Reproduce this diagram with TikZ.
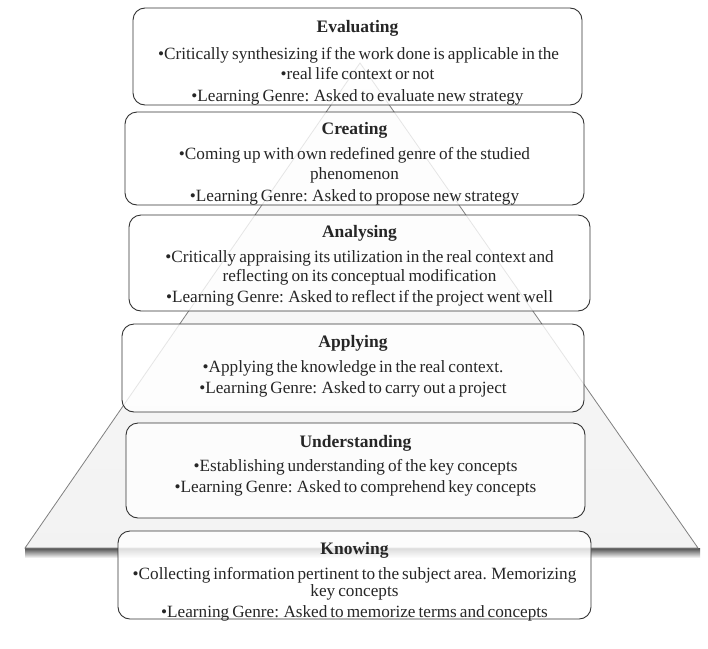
\documentclass[tikz,border=0pt]{standalone}
\usepackage{fontspec}
\setmainfont{Liberation Serif}[WordSpace=0.7]
\begin{document}
\begin{tikzpicture}[x=1pt,y=-1pt,
  box/.style={draw=black!80, line width=0.9pt, rounded corners=12pt, fill=white, fill opacity=0.8, inner sep=0pt},
  txt/.style={font=\fontsize{17.2}{18}\selectfont, text=black!85, anchor=mid, inner sep=0pt},
  ttl/.style={txt, font=\fontsize{17.5}{18}\selectfont\bfseries},
  tri/.style={draw=black!50, line width=0.8pt}]
\useasboundingbox (0,0) rectangle (708,648);
\fill[white] (0,0) rectangle (708,648);
% pyramid
\coordinate (apex) at (360,63);
\coordinate (bl) at (25,548);
\coordinate (br) at (698,548);
\shade[top color=black!70, bottom color=white] (25,548) rectangle (700,558);
\shade[top color=black!2, bottom color=black!5, tri] (apex) -- (bl) -- (br) -- cycle;
% boxes
\node[box, minimum width=449pt, minimum height=97pt] (ev) at (357.5,56.5) {};
\node[box, minimum width=459pt, minimum height=93pt] (cr) at (354.5,158.5) {};
\node[box, minimum width=461pt, minimum height=96pt] (an) at (359.5,263) {};
\node[box, minimum width=462pt, minimum height=88pt] (ap) at (353,368) {};
\node[box, minimum width=459pt, minimum height=95pt] (un) at (355.5,470.5) {};
\node[box, minimum width=473pt, minimum height=88pt] (kn) at (354.5,575) {};
% texts
\begin{scope}[yshift=-2pt]
\node[ttl] (ev0) at (357.5,28) {Evaluating};
\node[txt] (ev1) at (358.5,55) {•Critically synthesizing if the work done is applicable in the};
\node[txt] (ev2) at (357.5,75) {•real life context or not};
\node[txt] (ev3) at (357.5,97) {•Learning Genre: Asked to evaluate new strategy};
\node[ttl] (cr0) at (354.5,130) {Creating};
\node[txt] (cr1) at (354.5,155) {•Coming up with own redefined genre of the studied};
\node[txt] (cr2) at (354.5,175) {phenomenon};
\node[txt] (cr3) at (354.5,197) {•Learning Genre: Asked to propose new strategy};
\node[ttl] (an0) at (359.5,233) {Analysing};
\node[txt] (an1) at (359.5,258) {•Critically appraising its utilization in the real context and};
\node[txt] (an2) at (359.5,277) {reflecting on its conceptual modification};
\node[txt] (an3) at (359.5,298) {•Learning Genre: Asked to reflect if the project went well};
\node[ttl] (ap0) at (353,343) {Applying};
\node[txt] (ap1) at (353,368) {•Applying the knowledge in the real context.};
\node[txt] (ap2) at (353,389) {•Learning Genre: Asked to carry out a project};
\node[ttl] (un0) at (355.5,443) {Understanding};
\node[txt] (un1) at (355.5,467) {•Establishing understanding of the key concepts};
\node[txt] (un2) at (355.5,488) {•Learning Genre: Asked to comprehend key concepts};
\node[ttl] (kn0) at (354.5,550) {Knowing};
\node[txt] (kn1) at (354.5,575) {•Collecting information pertinent to the subject area. Memorizing};
\node[txt] (kn2) at (354.5,592) {key concepts};
\node[txt] (kn3) at (354.5,613) {•Learning Genre: Asked to memorize terms and concepts};
\end{scope}
\end{tikzpicture}
\end{document}
